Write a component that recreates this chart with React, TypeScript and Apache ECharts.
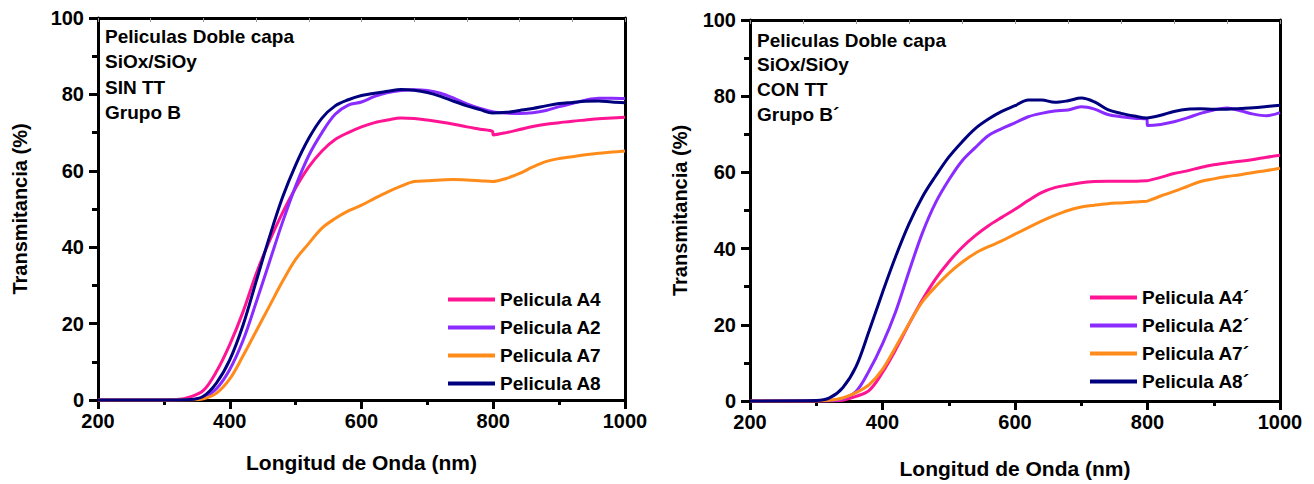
import React, { useEffect, useRef } from "react";
import * as echarts from "echarts";

const wavelengths = [200, 300, 320, 340, 360, 380, 400, 420, 440, 460, 480, 500, 520, 540, 560, 580, 600, 620, 640, 660, 680, 700, 720, 740, 760, 780, 799, 800, 820, 840, 860, 880, 900, 920, 940, 960, 980, 1000];

// Left: SIN TT, Grupo B
const leftA4 = [0, 0, 0.1, 0.8, 2.5, 7.5, 14.5, 23, 33, 41.5, 49, 55.5, 61, 65.2, 68.2, 70, 71.5, 72.6, 73.3, 73.8, 73.7, 73.3, 72.8, 72.2, 71.5, 70.9, 70.3, 69.4, 70, 70.8, 71.6, 72.2, 72.6, 73, 73.3, 73.6, 73.8, 74];
const leftA2 = [0, 0, 0, 0.1, 0.6, 3, 8, 15.5, 25.5, 36, 46.5, 56, 64, 70, 74.8, 77.2, 78, 79.5, 80.5, 81, 81.2, 81, 80.3, 79, 77.5, 76.3, 75.5, 75.4, 75.1, 75, 75.2, 75.8, 76.8, 77.6, 78.5, 79, 79, 78.9];
const leftA7 = [0, 0, 0, 0, 0.3, 1.8, 5.5, 11.5, 18, 24.5, 31, 36.8, 41, 45, 47.5, 49.5, 51, 52.8, 54.5, 56, 57.2, 57.4, 57.6, 57.7, 57.6, 57.4, 57.2, 57.2, 58, 59.3, 61, 62.4, 63.2, 63.7, 64.2, 64.6, 64.9, 65.2];
const leftA8 = [0, 0, 0, 0.1, 1, 4.5, 10.5, 19.5, 31, 42.5, 53, 61.5, 68.5, 73.8, 77, 78.6, 79.7, 80.3, 80.8, 81.3, 81.1, 80.5, 79.5, 78.2, 77, 76, 75.1, 75.1, 75.3, 75.8, 76.3, 77, 77.6, 77.9, 78.2, 78.3, 78, 77.8];

// Right: CON TT, Grupo B´
const rightA4 = [0, 0, 0, 0.2, 1.2, 2.8, 7.5, 13.5, 20.2, 26.5, 32, 36.5, 40.3, 43.4, 46, 48.2, 50.3, 52.6, 54.7, 56, 56.7, 57.3, 57.6, 57.7, 57.7, 57.7, 57.8, 57.8, 58.7, 59.7, 60.4, 61.3, 62, 62.5, 62.9, 63.4, 64, 64.5];
const rightA2 = [0, 0, 0.1, 0.6, 2.5, 8, 15, 23.5, 34, 44, 52, 58, 63, 66.5, 69.7, 71.5, 73, 74.6, 75.5, 76.1, 76.4, 77.2, 76.6, 75.2, 74.6, 74.2, 74, 72.3, 72.6, 73.3, 74.3, 75.5, 76.4, 76.9, 76.2, 75.3, 74.9, 75.7];
const rightA7 = [0, 0, 0.2, 0.8, 2.2, 4.3, 8.3, 14.2, 20.3, 26, 30, 33.5, 36.4, 38.8, 40.5, 42, 43.8, 45.5, 47.2, 48.7, 50, 50.9, 51.4, 51.8, 52, 52.2, 52.4, 52.4, 53.8, 55, 56.3, 57.6, 58.3, 58.9, 59.4, 60, 60.5, 61.1];
const rightA8 = [0, 0.1, 0.8, 3.5, 9, 18.5, 28.5, 38, 46.5, 53.5, 59, 64, 68, 71.5, 74, 76, 77.5, 79, 79, 78.4, 78.8, 79.5, 78.5, 76.5, 75.5, 74.8, 74.3, 74.3, 75, 76, 76.6, 76.7, 76.6, 76.6, 76.8, 77, 77.3, 77.6];

const leftNames = ["Pelicula A4", "Pelicula A2", "Pelicula A7", "Pelicula A8"];
const rightNames = ["Pelicula A4´", "Pelicula A2´", "Pelicula A7´", "Pelicula A8´"];
const colors = ["#FF1493", "#8A2BFF", "#FF8C1A", "#00007F"];
const leftNotes = ["Peliculas Doble capa", "SiOx/SiOy", "SIN TT", "Grupo B"];
const rightNotes = ["Peliculas Doble capa", "SiOx/SiOy", "CON TT", "Grupo B´"];
const xTitle = "Longitud de Onda (nm)";
const yTitle = "Transmitancia (%)";

const FONT = '"Liberation Sans", Arial, sans-serif';

const pairs = (ys: number[]) => wavelengths.map((w, i) => [w, ys[i]]);

function bottomAxis(grid: number, nameGap: number) {
  return {
    type: "value",
    gridIndex: grid,
    position: "bottom",
    min: 200,
    max: 1000,
    interval: 200,
    name: xTitle,
    nameLocation: "middle",
    nameGap,
    nameTextStyle: { fontFamily: FONT, fontWeight: "bold", fontSize: 21, color: "#000" },
    axisLine: { show: true, onZero: false, lineStyle: { color: "#000", width: 3 } },
    axisTick: { show: true, inside: false, length: 9, lineStyle: { color: "#000", width: 3 } },
    minorTick: { show: true, splitNumber: 2, length: 5, lineStyle: { color: "#000", width: 3 } },
    axisLabel: {
      fontFamily: FONT,
      fontWeight: "bold",
      fontSize: 20,
      color: "#000",
      margin: 11,
      formatter: (v: number) => String(v),
    },
    splitLine: { show: false },
  };
}

function topAxis(grid: number) {
  return {
    type: "value",
    gridIndex: grid,
    position: "top",
    min: 200,
    max: 1000,
    interval: 80,
    axisLine: { show: true, onZero: false, lineStyle: { color: "#000", width: 3 } },
    axisTick: { show: true, inside: true, length: 4, lineStyle: { color: "#999", width: 1 } },
    axisLabel: { show: false },
    splitLine: { show: false },
  };
}

function leftAxis(grid: number, nameGap: number) {
  return {
    type: "value",
    gridIndex: grid,
    position: "left",
    min: 0,
    max: 100,
    interval: 20,
    name: yTitle,
    nameLocation: "middle",
    nameGap,
    nameRotate: 90,
    nameTextStyle: { fontFamily: FONT, fontWeight: "bold", fontSize: 20, color: "#000" },
    axisLine: { show: true, onZero: false, lineStyle: { color: "#000", width: 3 } },
    axisTick: { show: true, inside: false, length: 9, lineStyle: { color: "#000", width: 3 } },
    minorTick: { show: true, splitNumber: 2, length: 6, lineStyle: { color: "#000", width: 3 } },
    axisLabel: {
      fontFamily: FONT,
      fontWeight: "bold",
      fontSize: 20,
      color: "#000",
      margin: 14,
      formatter: (v: number) => String(v),
    },
    splitLine: { show: false },
  };
}

function rightAxis(grid: number) {
  return {
    type: "value",
    gridIndex: grid,
    position: "right",
    min: 0,
    max: 100,
    interval: 20,
    axisLine: { show: true, onZero: false, lineStyle: { color: "#000", width: 3 } },
    axisTick: { show: false },
    axisLabel: { show: false },
    splitLine: { show: false },
  };
}

function notes(lines: string[], x: number, ys: number[]) {
  return lines.map((t, i) => ({
    type: "text",
    x,
    y: ys[i],
    z: 100,
    style: {
      text: t,
      fontFamily: FONT,
      fontWeight: "bold",
      fontSize: 19,
      fill: "#000",
      verticalAlign: "middle",
      align: "left",
    },
  }));
}

export default function App() {
  const ref = useRef<HTMLDivElement>(null);

  useEffect(() => {
    if (!ref.current) return;
    const chart = echarts.init(ref.current, undefined, { renderer: "svg" });
    const leftData = [leftA4, leftA2, leftA7, leftA8];
    const rightData = [rightA4, rightA2, rightA7, rightA8];
    const mkSeries = (names: string[], data: number[][], xi: number, yi: number) =>
      names.map((n, i) => ({
        name: n,
        type: "line",
        xAxisIndex: xi,
        yAxisIndex: yi,
        data: pairs(data[i]),
        showSymbol: false,
        symbol: "none",
        smooth: 0.35,
        color: colors[i],
        lineStyle: { color: colors[i], width: 3 },
        itemStyle: { color: colors[i] },
      }));

    const legendBase = {
      orient: "vertical",
      icon: "rect",
      itemWidth: 47,
      itemHeight: 4,
      itemGap: 9,
      textStyle: { fontFamily: FONT, fontWeight: "bold", fontSize: 19, color: "#000", lineHeight: 19 },
    };

    chart.setOption({
      animation: false,
      backgroundColor: "#fff",
      grid: [
        { left: 98, top: 18, width: 527, height: 382 },
        { left: 750, top: 20, width: 530, height: 382 },
      ],
      xAxis: [bottomAxis(0, 52), topAxis(0), bottomAxis(1, 57), topAxis(1)],
      yAxis: [leftAxis(0, 68), rightAxis(0), leftAxis(1, 60), rightAxis(1)],
      legend: [
        { ...legendBase, data: leftNames, left: 443, top: 285 },
        { ...legendBase, data: rightNames, left: 1085, top: 283 },
      ],
      graphic: [
        ...notes(leftNotes, 105, [36, 61, 87, 112]),
        ...notes(rightNotes, 757, [40, 64, 89, 114]),
      ],
      series: [...mkSeries(leftNames, leftData, 0, 0), ...mkSeries(rightNames, rightData, 2, 2)],
    });
    return () => chart.dispose();
  }, []);

  return (
    <div
      ref={ref}
      style={{ position: "absolute", left: 0, top: 0, width: 1314, height: 484, background: "#fff" }}
    />
  );
}
